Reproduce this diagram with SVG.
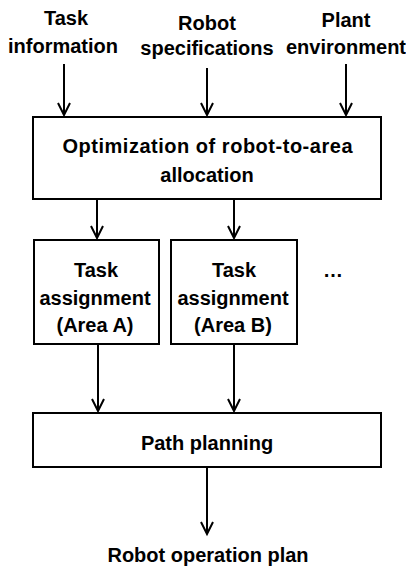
<svg xmlns="http://www.w3.org/2000/svg" width="406" height="571" viewBox="0 0 406 571">
<style>
.box{fill:#fff;stroke:#000;stroke-width:2}
.t{font-family:"Liberation Sans",Arial,sans-serif;font-weight:bold;font-size:20px;fill:#000;text-anchor:middle}
.c line{stroke:#000;stroke-width:2}
.c polyline{fill:none;stroke:#000;stroke-width:2}
</style>
<rect width="406" height="571" fill="#fff"/>
<g id="in-task"><text class="t" x="66" y="25">Task</text><text class="t" x="63" y="53">information</text></g>
<g id="in-robot"><text class="t" x="207" y="30">Robot</text><text class="t" x="207" y="55">specifications</text></g>
<g id="in-plant"><text class="t" x="346" y="27">Plant</text><text class="t" x="346" y="54">environment</text></g>
<g id="opt"><rect class="box" x="33" y="117" width="348" height="82"/><text class="t" x="207.5" y="153" textLength="290" lengthAdjust="spacing">Optimization of robot-to-area</text><text class="t" x="207" y="182">allocation</text></g>
<g id="taskA"><rect class="box" x="34" y="240" width="125" height="104"/><text class="t" x="96" y="277">Task</text><text class="t" x="95" y="305">assignment</text><text class="t" x="95" y="332">(Area A)</text></g>
<g id="taskB"><rect class="box" x="171" y="240" width="126" height="104"/><text class="t" x="234" y="277">Task</text><text class="t" x="233" y="305">assignment</text><text class="t" x="233" y="332">(Area B)</text></g>
<g id="more"><text class="t" x="333" y="277">…</text></g>
<g id="path"><rect class="box" x="33" y="413" width="348" height="54"/><text class="t" x="207" y="450">Path planning</text></g>
<g id="out"><text class="t" x="208" y="562">Robot operation plan</text></g>
<g class="c" id="connectors">
<line x1="64" y1="64" x2="64" y2="115"/><polyline points="58,103 64,115 70,103"/>
<line x1="207" y1="68" x2="207" y2="115"/><polyline points="201,103 207,115 213,103"/>
<line x1="346" y1="64" x2="346" y2="115"/><polyline points="340,103 346,115 352,103"/>
<line x1="97" y1="200" x2="97" y2="238"/><polyline points="91,226 97,238 103,226"/>
<line x1="234" y1="200" x2="234" y2="238"/><polyline points="228,226 234,238 240,226"/>
<line x1="98" y1="345" x2="98" y2="411"/><polyline points="92,399 98,411 104,399"/>
<line x1="234" y1="345" x2="234" y2="411"/><polyline points="228,399 234,411 240,399"/>
<line x1="207" y1="468" x2="207" y2="534"/><polyline points="201,522 207,534 213,522"/>
</g>
</svg>
